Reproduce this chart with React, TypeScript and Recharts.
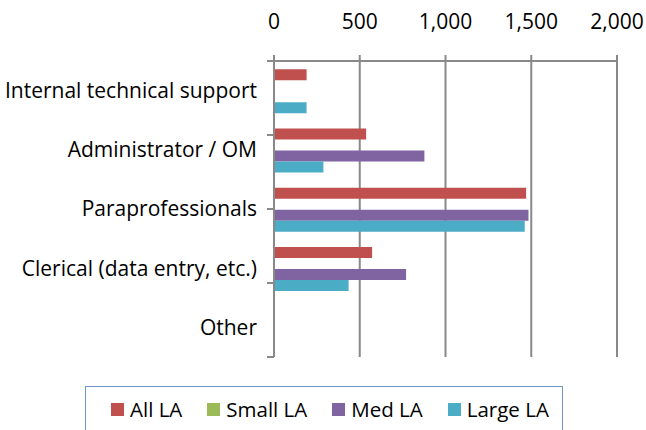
import React from "react";
import { BarChart, Bar, XAxis, YAxis, CartesianGrid } from "recharts";

const categories = [
  "Internal technical support",
  "Administrator / OM",
  "Paraprofessionals",
  "Clerical (data entry, etc.)",
  "Other",
];
const allLA = [190, 537, 1470, 572, 0];
const smallLA = [0, 0, 0, 0, 0];
const medLA = [0, 877, 1484, 770, 0];
const largeLA = [190, 288, 1462, 435, 0];
const xTicks = [0, 500, 1000, 1500, 2000];
const boundaryTicks = [0, 1, 2, 3, 4, 5];

const seriesNames = ["All LA", "Small LA", "Med LA", "Large LA"];
const seriesKeys = ["all", "small", "med", "large"];
const seriesColors = ["#C0504D", "#9BBB59", "#8064A2", "#4BACC6"];

const data = categories.map((c, i) => ({
  name: c,
  all: allLA[i],
  small: smallLA[i],
  med: medLA[i],
  large: largeLA[i],
}));

const FONT = "'Open Sans', sans-serif";
const GRID = "#898989";

export default function App() {
  return (
    <div
      style={{
        position: "absolute",
        left: 0,
        top: 0,
        width: 646,
        height: 430,
        background: "#fff",
        fontFamily: FONT,
        overflow: "hidden",
      }}
    >
      <BarChart
        width={646}
        height={430}
        data={data}
        layout="vertical"
        margin={{ top: 0, right: 29, bottom: 73, left: 0 }}
        barCategoryGap="14%"
        barGap={0}
        style={{ fontFamily: FONT }}
      >
        <CartesianGrid
          horizontal={false}
          vertical={true}
          stroke={GRID}
          strokeWidth={2}
          yAxisId="cat"
        />
        <XAxis
          type="number"
          orientation="top"
          domain={[0, 2000]}
          ticks={xTicks}
          height={61}
          tickSize={6}
          tickMargin={26}
          interval={0}
          stroke={GRID}
          strokeWidth={2}
          tick={{ fill: "#000", fontSize: 21, fontFamily: FONT }}
          tickFormatter={(v: number) => v.toLocaleString("en-US")}
        />
        <YAxis
          yAxisId="cat"
          type="category"
          dataKey="name"
          orientation="left"
          width={274}
          axisLine={false}
          tickLine={false}
          tickSize={0}
          tickMargin={17}
          interval={0}
          tick={{ fill: "#000", fontSize: 21, fontFamily: FONT }}
        />
        <YAxis
          yAxisId="bound"
          type="number"
          orientation="left"
          mirror={true}
          domain={[0, 5]}
          ticks={boundaryTicks}
          tickSize={-7}
          tickFormatter={() => ""}
          stroke={GRID}
          strokeWidth={2}
          interval={0}
        />
        {seriesKeys.map((k, i) => (
          <Bar
            key={k}
            dataKey={k}
            name={seriesNames[i]}
            yAxisId="cat"
            fill={seriesColors[i]}
            isAnimationActive={false}
          />
        ))}
      </BarChart>
      <div
        style={{
          position: "absolute",
          left: 85,
          top: 386,
          width: 478,
          height: 60,
          border: "1.5px solid #6F94C8",
          boxSizing: "border-box",
          display: "flex",
          alignItems: "flex-start",
          paddingLeft: 25,
          paddingTop: 8,
          gap: 25,
          fontFamily: FONT,
          fontSize: 20.5,
          color: "#000",
        }}
      >
        {seriesNames.map((n, i) => (
          <div key={n} style={{ display: "flex", alignItems: "center", height: 28 }}>
            <span
              style={{
                display: "inline-block",
                width: 13,
                height: 13,
                background: seriesColors[i],
                marginRight: 6,
              }}
            />
            <span style={{ lineHeight: "28px", whiteSpace: "nowrap" }}>{n}</span>
          </div>
        ))}
      </div>
    </div>
  );
}
